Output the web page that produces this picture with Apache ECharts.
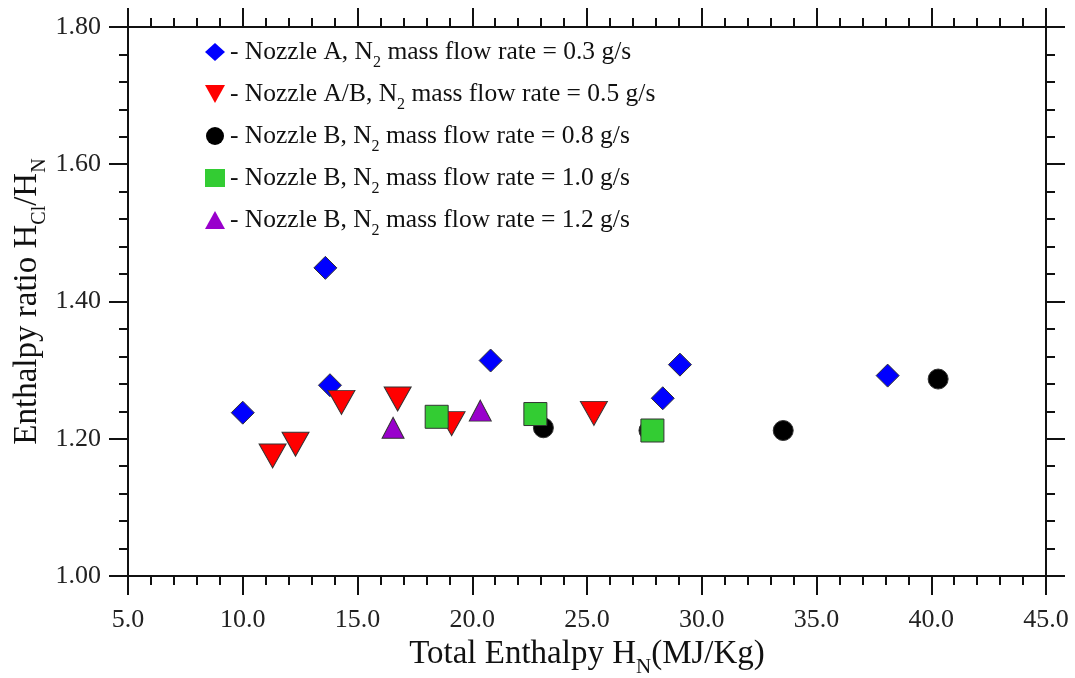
<!DOCTYPE html>
<html>
<head>
<meta charset="utf-8">
<script src="https://cdn.jsdelivr.net/npm/echarts@6/dist/echarts.min.js"></script>
<style>
  html, body { margin: 0; padding: 0; background: #fff; }
  #chart { width: 1075px; height: 678px; }
</style>
</head>
<body>
<div id="chart"></div>
<script>
// data: [total enthalpy H_N (MJ/Kg), ratio H_Cl/H_N]
var nozzleA_03 = [[10.0, 1.238], [13.6, 1.449], [13.8, 1.278], [20.8, 1.314], [28.3, 1.259], [29.05, 1.308], [38.1, 1.292]];
var nozzleAB_05 = [[11.3, 1.175], [12.3, 1.192], [14.3, 1.253], [16.75, 1.258], [19.1, 1.222], [25.3, 1.237]];
var nozzleB_08 = [[23.1, 1.216], [27.7, 1.212], [33.55, 1.212], [40.3, 1.287]];
var nozzleB_10 = [[18.45, 1.232], [22.75, 1.236], [27.85, 1.212]];
var nozzleB_12 = [[16.55, 1.216], [20.35, 1.241]];

var seriesNames = ['A 0.3', 'A/B 0.5', 'B 0.8', 'B 1.0', 'B 1.2'];
var legendLabels = [
    '- Nozzle A, N{sub|2} mass flow rate = 0.3 g/s',
    '- Nozzle A/B, N{sub|2} mass flow rate = 0.5 g/s',
    '- Nozzle B, N{sub|2} mass flow rate = 0.8 g/s',
    '- Nozzle B, N{sub|2} mass flow rate = 1.0 g/s',
    '- Nozzle B, N{sub|2} mass flow rate = 1.2 g/s'
];

var xTicks = { min: 5, max: 45, interval: 5 };
var yTicks = { min: 1.0, max: 1.8, interval: 0.2 };

var font = 'Liberation Serif';
var ink = '#111';

// 下标: 用 padding 把小字往下推
function subRich(mainSize, subSize, pad) {
    return {
        main: { fontFamily: font, fontSize: mainSize, color: ink, lineHeight: pad + subSize, verticalAlign: 'middle' },
        sub: { fontFamily: font, fontSize: subSize, color: ink, lineHeight: subSize, padding: [pad, 0, 0, 0], verticalAlign: 'top' }
    };
}

var chart = echarts.init(document.getElementById('chart'));

// 一个坐标轴的公共设置
function axisBase(kind, pos, showLabel) {
    var t = kind === 'x' ? xTicks : yTicks;
    return {
        type: 'value',
        position: pos,
        min: t.min,
        max: t.max,
        interval: t.interval,
        nameMoveOverlap: false,
        splitLine: { show: false },
        axisLine: { show: true, onZero: false, lineStyle: { color: ink, width: 2 } },
        axisTick: { show: true, length: 19, lineStyle: { color: ink, width: 2 } },
        minorTick: { show: true, splitNumber: 5, length: 9, lineStyle: { color: ink, width: 2 } },
        axisLabel: {
            show: showLabel,
            fontFamily: font,
            fontSize: 26,
            color: '#222',
            margin: kind === 'x' ? 31 : 27,
            formatter: function (v) { return kind === 'x' ? v.toFixed(1) : v.toFixed(2); }
        }
    };
}

var xMain = axisBase('x', 'bottom', true);
xMain.name = '{main|Total Enthalpy H}{sub|N}{main|(MJ/Kg)}';
xMain.nameLocation = 'middle';
xMain.nameGap = 54;
xMain.nameTextStyle = { rich: subRich(33, 21, 27) };

var yMain = axisBase('y', 'left', true);
yMain.name = '{main|Enthalpy ratio H}{sub|Cl}{main|/H}{sub|N}';
yMain.nameLocation = 'middle';
yMain.nameGap = 78;
yMain.nameTextStyle = { rich: subRich(33, 20, 26) };

function scatter(name, data, symbol, size, color, extra) {
    var s = {
        name: name,
        type: 'scatter',
        data: data,
        symbol: symbol,
        symbolSize: size,
        itemStyle: { color: color, borderColor: '#333', borderWidth: 1, opacity: 1 }
    };
    for (var k in extra) s[k] = extra[k];
    return s;
}

var option = {
    backgroundColor: '#fff',
    animation: false,
    grid: { left: 128, right: 29, top: 27, bottom: 102, outerBoundsMode: 'none', containLabel: false },
    legend: {
        orient: 'vertical',
        left: 200,
        top: 28,
        itemGap: 4,
        itemWidth: 20,
        itemHeight: 18,
        itemStyle: { borderWidth: 0 },
        data: [
            { name: seriesNames[0] },
            { name: seriesNames[1], icon: 'path://M0,0L10,0L5,9Z' },
            { name: seriesNames[2] },
            { name: seriesNames[3] },
            { name: seriesNames[4] }
        ],
        formatter: function (name) {
            return '{main|' + legendLabels[seriesNames.indexOf(name)].replace('N{sub|2}', 'N}{sub|2}{main|') + '}';
        },
        textStyle: { rich: subRich(25.5, 16, 22) }
    },
    xAxis: [xMain, axisBase('x', 'top', false)],
    yAxis: [yMain, axisBase('y', 'right', false)],
    series: [
        scatter(seriesNames[0], nozzleA_03, 'diamond', 23, '#0000ff', {}),
        scatter(seriesNames[1], nozzleAB_05, 'triangle', [27, 24], '#ff0000', { symbolRotate: 180 }),
        scatter(seriesNames[2], nozzleB_08, 'circle', 20, '#000000', {}),
        scatter(seriesNames[3], nozzleB_10, 'rect', 23, '#33cc33', {}),
        scatter(seriesNames[4], nozzleB_12, 'triangle', [22, 21], '#9900cc', {})
    ]
};

chart.setOption(option);
</script>
</body>
</html>
